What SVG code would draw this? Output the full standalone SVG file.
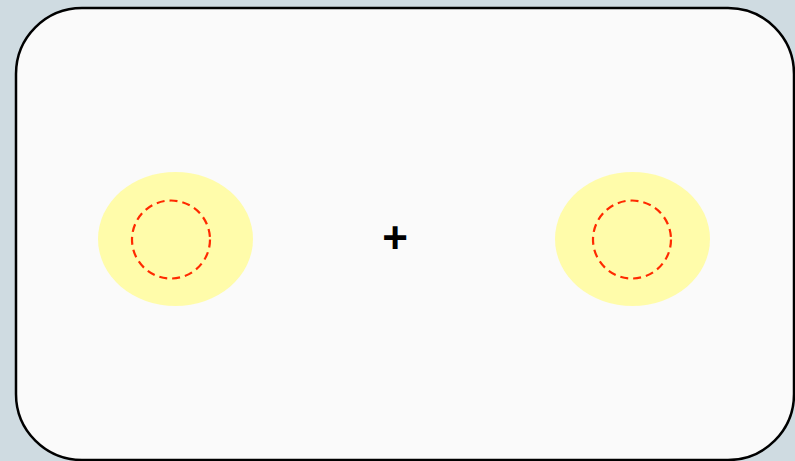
<svg xmlns="http://www.w3.org/2000/svg" width="795" height="461" viewBox="0 0 795 461">
<style>
.glow{fill:#fffcaa;stroke:none}
.ring{fill:none;stroke:#ff2a00;stroke-width:2.2;stroke-dasharray:8 5}
.op{font-family:"Liberation Sans",Arial,sans-serif;font-size:44px;font-weight:bold;fill:#000;text-anchor:middle}
</style>
<rect x="0" y="0" width="795" height="461" fill="#cfdbe1"/>
<g id="frame">
<rect x="16" y="8" width="778" height="452" rx="66" ry="66" fill="#fafafa" stroke="#000" stroke-width="2.5"/>
</g>
<g id="left-node">
<ellipse class="glow" cx="175.5" cy="239" rx="77.5" ry="67"/>
<circle class="ring" cx="171" cy="239.5" r="39"/>
</g>
<g id="plus">
<text class="op" x="395" y="253">+</text>
</g>
<g id="right-node">
<ellipse class="glow" cx="632.5" cy="239" rx="77.5" ry="67"/>
<circle class="ring" cx="632" cy="239.5" r="39"/>
</g>
<g id="connectors"></g>
</svg>
